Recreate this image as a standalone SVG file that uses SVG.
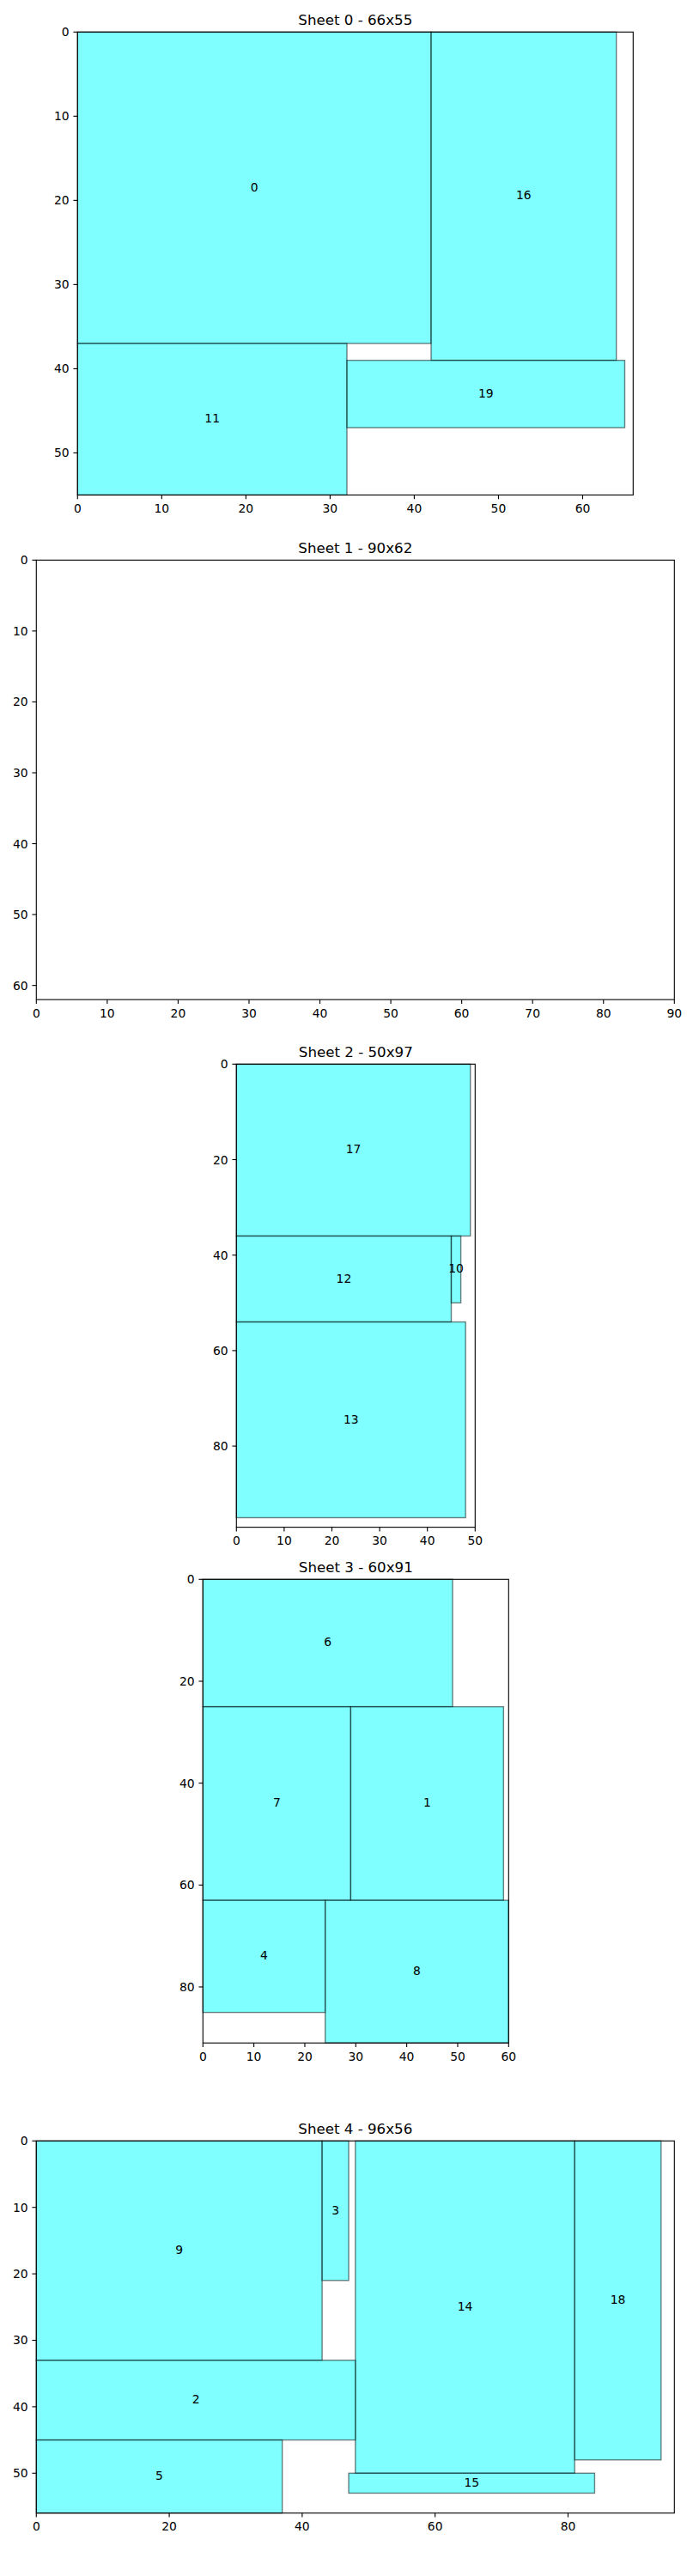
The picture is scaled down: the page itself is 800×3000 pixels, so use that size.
<svg xmlns="http://www.w3.org/2000/svg" width="800" height="3000" viewBox="0 0 800 3000">
<style>
text{font-family:"DejaVu Sans","Liberation Sans",sans-serif;fill:#000}
.t{font-size:16.67px;text-anchor:middle}
.xl{font-size:13.89px;text-anchor:middle}
.yl{font-size:13.89px;text-anchor:end}
.lb{font-size:13.89px;text-anchor:middle}
.r{fill:#00ffff;fill-opacity:0.5;stroke:#000;stroke-opacity:0.5;stroke-width:1.39}
.ax{fill:none;stroke:#000;stroke-width:1.11}
.tk{stroke:#000;stroke-width:1.11}
</style>
<rect width="800" height="3000" fill="#fff"/>

<g id="sheet0">
<text class="t" x="413.8" y="29">Sheet 0 - 66x55</text>
<g id="p0"><rect class="r" x="90.3" y="37.3" width="411.73" height="362.71"/><text class="lb" x="296.16" y="222.66">0</text></g>
<g id="p16"><rect class="r" x="502.03" y="37.3" width="215.67" height="382.32"/><text class="lb" x="609.86" y="232.46">16</text></g>
<g id="p11"><rect class="r" x="90.3" y="400.01" width="313.7" height="176.45"/><text class="lb" x="247.15" y="492.24">11</text></g>
<g id="p19"><rect class="r" x="404" y="419.62" width="323.5" height="78.42"/><text class="lb" x="565.75" y="462.83">19</text></g>
<rect class="ax" x="90.3" y="37.3" width="647" height="539.17"/>
<g class="tk">
<line x1="90.3" y1="576.47" x2="90.3" y2="581.33"/><line x1="188.33" y1="576.47" x2="188.33" y2="581.33"/><line x1="286.36" y1="576.47" x2="286.36" y2="581.33"/><line x1="384.39" y1="576.47" x2="384.39" y2="581.33"/><line x1="482.42" y1="576.47" x2="482.42" y2="581.33"/><line x1="580.45" y1="576.47" x2="580.45" y2="581.33"/><line x1="678.48" y1="576.47" x2="678.48" y2="581.33"/>
<line x1="85.44" y1="37.3" x2="90.3" y2="37.3"/><line x1="85.44" y1="135.33" x2="90.3" y2="135.33"/><line x1="85.44" y1="233.36" x2="90.3" y2="233.36"/><line x1="85.44" y1="331.39" x2="90.3" y2="331.39"/><line x1="85.44" y1="429.42" x2="90.3" y2="429.42"/><line x1="85.44" y1="527.45" x2="90.3" y2="527.45"/>
</g>
<text class="xl" x="90.3" y="596.8">0</text><text class="xl" x="188.33" y="596.8">10</text><text class="xl" x="286.36" y="596.8">20</text><text class="xl" x="384.39" y="596.8">30</text><text class="xl" x="482.42" y="596.8">40</text><text class="xl" x="580.45" y="596.8">50</text><text class="xl" x="678.48" y="596.8">60</text>
<text class="yl" x="80.6" y="42.3">0</text><text class="yl" x="80.6" y="140.33">10</text><text class="yl" x="80.6" y="238.36">20</text><text class="yl" x="80.6" y="336.39">30</text><text class="yl" x="80.6" y="434.42">40</text><text class="yl" x="80.6" y="532.45">50</text>
</g>

<g id="sheet1">
<text class="t" x="413.8" y="644">Sheet 1 - 90x62</text>
<rect class="ax" x="42.3" y="652.3" width="743" height="511.84"/>
<g class="tk">
<line x1="42.3" y1="1164.14" x2="42.3" y2="1169"/><line x1="124.86" y1="1164.14" x2="124.86" y2="1169"/><line x1="207.41" y1="1164.14" x2="207.41" y2="1169"/><line x1="289.97" y1="1164.14" x2="289.97" y2="1169"/><line x1="372.52" y1="1164.14" x2="372.52" y2="1169"/><line x1="455.08" y1="1164.14" x2="455.08" y2="1169"/><line x1="537.64" y1="1164.14" x2="537.64" y2="1169"/><line x1="620.19" y1="1164.14" x2="620.19" y2="1169"/><line x1="702.75" y1="1164.14" x2="702.75" y2="1169"/><line x1="785.3" y1="1164.14" x2="785.3" y2="1169"/>
<line x1="37.44" y1="652.3" x2="42.3" y2="652.3"/><line x1="37.44" y1="734.86" x2="42.3" y2="734.86"/><line x1="37.44" y1="817.41" x2="42.3" y2="817.41"/><line x1="37.44" y1="899.97" x2="42.3" y2="899.97"/><line x1="37.44" y1="982.52" x2="42.3" y2="982.52"/><line x1="37.44" y1="1065.08" x2="42.3" y2="1065.08"/><line x1="37.44" y1="1147.64" x2="42.3" y2="1147.64"/>
</g>
<text class="xl" x="42.3" y="1184.5">0</text><text class="xl" x="124.86" y="1184.5">10</text><text class="xl" x="207.41" y="1184.5">20</text><text class="xl" x="289.97" y="1184.5">30</text><text class="xl" x="372.52" y="1184.5">40</text><text class="xl" x="455.08" y="1184.5">50</text><text class="xl" x="537.64" y="1184.5">60</text><text class="xl" x="620.19" y="1184.5">70</text><text class="xl" x="702.75" y="1184.5">80</text><text class="xl" x="785.3" y="1184.5">90</text>
<text class="yl" x="32.6" y="657.3">0</text><text class="yl" x="32.6" y="739.86">10</text><text class="yl" x="32.6" y="822.41">20</text><text class="yl" x="32.6" y="904.97">30</text><text class="yl" x="32.6" y="987.52">40</text><text class="yl" x="32.6" y="1070.08">50</text><text class="yl" x="32.6" y="1152.64">60</text>
</g>

<g id="sheet2">
<text class="t" x="414.3" y="1231">Sheet 2 - 50x97</text>
<g id="p17"><rect class="r" x="275.3" y="1239.3" width="272.44" height="200.16"/><text class="lb" x="411.52" y="1343.38">17</text></g>
<g id="p12"><rect class="r" x="275.3" y="1439.46" width="250.2" height="100.08"/><text class="lb" x="400.4" y="1493.5">12</text></g>
<g id="p10"><rect class="r" x="525.5" y="1439.46" width="11.12" height="77.84"/><text class="lb" x="531.06" y="1482.38">10</text></g>
<g id="p13"><rect class="r" x="275.3" y="1539.54" width="266.88" height="227.96"/><text class="lb" x="408.74" y="1657.52">13</text></g>
<rect class="ax" x="275.3" y="1239.3" width="278" height="539.32"/>
<g class="tk">
<line x1="275.3" y1="1778.62" x2="275.3" y2="1783.48"/><line x1="330.9" y1="1778.62" x2="330.9" y2="1783.48"/><line x1="386.5" y1="1778.62" x2="386.5" y2="1783.48"/><line x1="442.1" y1="1778.62" x2="442.1" y2="1783.48"/><line x1="497.7" y1="1778.62" x2="497.7" y2="1783.48"/><line x1="553.3" y1="1778.62" x2="553.3" y2="1783.48"/>
<line x1="270.44" y1="1239.3" x2="275.3" y2="1239.3"/><line x1="270.44" y1="1350.5" x2="275.3" y2="1350.5"/><line x1="270.44" y1="1461.7" x2="275.3" y2="1461.7"/><line x1="270.44" y1="1572.9" x2="275.3" y2="1572.9"/><line x1="270.44" y1="1684.1" x2="275.3" y2="1684.1"/>
</g>
<text class="xl" x="275.3" y="1798.9">0</text><text class="xl" x="330.9" y="1798.9">10</text><text class="xl" x="386.5" y="1798.9">20</text><text class="xl" x="442.1" y="1798.9">30</text><text class="xl" x="497.7" y="1798.9">40</text><text class="xl" x="553.3" y="1798.9">50</text>
<text class="yl" x="265.6" y="1244.3">0</text><text class="yl" x="265.6" y="1355.5">20</text><text class="yl" x="265.6" y="1466.7">40</text><text class="yl" x="265.6" y="1577.9">60</text><text class="yl" x="265.6" y="1689.1">80</text>
</g>

<g id="sheet3">
<text class="t" x="414.3" y="1831">Sheet 3 - 60x91</text>
<g id="p6"><rect class="r" x="236.3" y="1839.3" width="290.73" height="148.33"/><text class="lb" x="381.67" y="1917.47">6</text></g>
<g id="p7"><rect class="r" x="236.3" y="1987.63" width="172.07" height="225.47"/><text class="lb" x="322.33" y="2104.37">7</text></g>
<g id="p1"><rect class="r" x="408.37" y="1987.63" width="178" height="225.47"/><text class="lb" x="497.37" y="2104.37">1</text></g>
<g id="p4"><rect class="r" x="236.3" y="2213.1" width="142.4" height="130.53"/><text class="lb" x="307.5" y="2282.37">4</text></g>
<g id="p8"><rect class="r" x="378.7" y="2213.1" width="213.6" height="166.13"/><text class="lb" x="485.5" y="2300.17">8</text></g>
<rect class="ax" x="236.3" y="1839.3" width="356" height="539.93"/>
<g class="tk">
<line x1="236.3" y1="2379.23" x2="236.3" y2="2384.09"/><line x1="295.63" y1="2379.23" x2="295.63" y2="2384.09"/><line x1="354.97" y1="2379.23" x2="354.97" y2="2384.09"/><line x1="414.3" y1="2379.23" x2="414.3" y2="2384.09"/><line x1="473.63" y1="2379.23" x2="473.63" y2="2384.09"/><line x1="532.97" y1="2379.23" x2="532.97" y2="2384.09"/><line x1="592.3" y1="2379.23" x2="592.3" y2="2384.09"/>
<line x1="231.44" y1="1839.3" x2="236.3" y2="1839.3"/><line x1="231.44" y1="1957.97" x2="236.3" y2="1957.97"/><line x1="231.44" y1="2076.63" x2="236.3" y2="2076.63"/><line x1="231.44" y1="2195.3" x2="236.3" y2="2195.3"/><line x1="231.44" y1="2313.97" x2="236.3" y2="2313.97"/>
</g>
<text class="xl" x="236.3" y="2399.5">0</text><text class="xl" x="295.63" y="2399.5">10</text><text class="xl" x="354.97" y="2399.5">20</text><text class="xl" x="414.3" y="2399.5">30</text><text class="xl" x="473.63" y="2399.5">40</text><text class="xl" x="532.97" y="2399.5">50</text><text class="xl" x="592.3" y="2399.5">60</text>
<text class="yl" x="226.6" y="1844.3">0</text><text class="yl" x="226.6" y="1962.97">20</text><text class="yl" x="226.6" y="2081.63">40</text><text class="yl" x="226.6" y="2200.3">60</text><text class="yl" x="226.6" y="2318.97">80</text>
</g>

<g id="sheet4">
<text class="t" x="413.8" y="2485">Sheet 4 - 96x56</text>
<g id="p9"><rect class="r" x="42.3" y="2493.3" width="332.8" height="255.41"/><text class="lb" x="208.7" y="2625">9</text></g>
<g id="p3"><rect class="r" x="375.1" y="2493.3" width="30.96" height="162.53"/><text class="lb" x="390.58" y="2578.57">3</text></g>
<g id="p14"><rect class="r" x="413.8" y="2493.3" width="255.41" height="386.98"/><text class="lb" x="541.5" y="2690.79">14</text></g>
<g id="p18"><rect class="r" x="669.21" y="2493.3" width="100.61" height="371.5"/><text class="lb" x="719.52" y="2683.05">18</text></g>
<g id="p2"><rect class="r" x="42.3" y="2748.71" width="371.5" height="92.88"/><text class="lb" x="228.05" y="2799.14">2</text></g>
<g id="p5"><rect class="r" x="42.3" y="2841.58" width="286.37" height="85.14"/><text class="lb" x="185.48" y="2888.15">5</text></g>
<g id="p15"><rect class="r" x="406.06" y="2880.28" width="286.37" height="23.22"/><text class="lb" x="549.24" y="2895.89">15</text></g>
<rect class="ax" x="42.3" y="2493.3" width="743" height="433.42"/>
<g class="tk">
<line x1="42.3" y1="2926.72" x2="42.3" y2="2931.58"/><line x1="197.09" y1="2926.72" x2="197.09" y2="2931.58"/><line x1="351.88" y1="2926.72" x2="351.88" y2="2931.58"/><line x1="506.67" y1="2926.72" x2="506.67" y2="2931.58"/><line x1="661.47" y1="2926.72" x2="661.47" y2="2931.58"/>
<line x1="37.44" y1="2493.3" x2="42.3" y2="2493.3"/><line x1="37.44" y1="2570.7" x2="42.3" y2="2570.7"/><line x1="37.44" y1="2648.09" x2="42.3" y2="2648.09"/><line x1="37.44" y1="2725.49" x2="42.3" y2="2725.49"/><line x1="37.44" y1="2802.88" x2="42.3" y2="2802.88"/><line x1="37.44" y1="2880.28" x2="42.3" y2="2880.28"/>
</g>
<text class="xl" x="42.3" y="2947">0</text><text class="xl" x="197.09" y="2947">20</text><text class="xl" x="351.88" y="2947">40</text><text class="xl" x="506.67" y="2947">60</text><text class="xl" x="661.47" y="2947">80</text>
<text class="yl" x="32.6" y="2498.3">0</text><text class="yl" x="32.6" y="2575.7">10</text><text class="yl" x="32.6" y="2653.09">20</text><text class="yl" x="32.6" y="2730.49">30</text><text class="yl" x="32.6" y="2807.88">40</text><text class="yl" x="32.6" y="2885.28">50</text>
</g>
</svg>
